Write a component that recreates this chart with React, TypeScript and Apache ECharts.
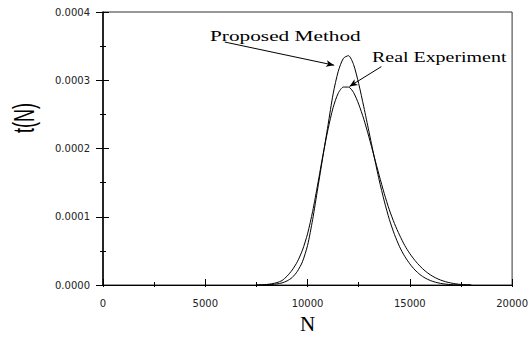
import React, { useEffect, useRef } from "react";
import * as echarts from "echarts";

// Sample positions N shared by both curves
const N_VALUES = [
  7500, 7750, 8000, 8250, 8500, 8750, 9000, 9250, 9500, 9750, 10000, 10250,
  10500, 10750, 11000, 11250, 11500, 11750, 12000, 12250, 12500, 12750, 13000,
  13250, 13500, 13750, 14000, 14250, 14500, 14750, 15000, 15250, 15500, 15750,
  16000, 16250, 16500, 16750, 17000, 17250, 17500, 17750, 18000,
];

// t(N) from the proposed method
const PROPOSED_T = [
  0, 0, 0.0000003, 0.0000008, 0.0000016, 0.000003, 0.000006, 0.000011,
  0.00002, 0.000034, 0.000058, 0.000096, 0.000142, 0.000188, 0.000234,
  0.00028, 0.000313, 0.000332, 0.000336, 0.000323, 0.000295, 0.000261,
  0.000225, 0.000189, 0.000154, 0.000123, 0.000096, 0.000074, 0.000056,
  0.000042, 0.000031, 0.000022, 0.0000152, 0.0000102, 0.0000066, 0.0000041,
  0.0000024, 0.0000013, 0.0000006, 0.0000002, 0, 0, 0,
];

// t(N) measured in the real experiment
const REAL_T = [
  0.0000001, 0.0000003, 0.0000008, 0.0000018, 0.0000035, 0.0000065, 0.000013,
  0.000022, 0.000034, 0.000051, 0.000075, 0.000108, 0.000148, 0.00019,
  0.000228, 0.00026, 0.000281, 0.00029, 0.00029, 0.000282, 0.000265,
  0.000243, 0.000217, 0.000189, 0.000161, 0.000134, 0.00011, 0.00009,
  0.000073, 0.000058, 0.000046, 0.000036, 0.0000275, 0.0000205, 0.000015,
  0.0000106, 0.0000073, 0.0000048, 0.000003, 0.0000017, 0.0000008, 0.0000003, 0,
];

const Y_TICK_LABELS = ["0.0000", "0.0001", "0.0002", "0.0003", "0.0004"];
const X_TICK_LABELS = ["0", "5000", "10000", "15000", "20000"];

// Arrow start/end points (data coordinates) for the two callouts
const PROPOSED_ARROW = [
  [5950, 0.000356],
  [11300, 0.000322],
];
const REAL_ARROW = [
  [13610, 0.00032],
  [12050, 0.000291],
];

const toPairs = (ys: number[]) => N_VALUES.map((n, i) => [n, ys[i]]);

const arrowMark = (pts: number[][]) => ({
  silent: true,
  symbol: ["none", "arrow"],
  symbolSize: [5, 8],
  lineStyle: { color: "#000", width: 1, type: "solid" },
  label: { show: false },
  emphasis: { disabled: true },
  data: [[{ coord: pts[0] }, { coord: pts[1] }]],
});

const textStyle = (text: string, font: string, align: string) => ({
  text,
  font,
  fill: "#000",
  align,
  verticalAlign: "middle",
  textAlign: align,
  textVerticalAlign: "middle",
});

export default function App() {
  const ref = useRef<HTMLDivElement>(null);

  useEffect(() => {
    document.body.style.margin = "0";
    if (!ref.current) return;
    const chart = echarts.init(ref.current, null, { renderer: "svg" });

    const labelFont = {
      fontFamily: "DejaVu Sans",
      fontSize: 10,
      color: "#222",
    };

    chart.setOption({
      animation: false,
      backgroundColor: "#fff",
      grid: {
        left: 103,
        right: 18,
        top: 12,
        bottom: 50,
        show: true,
        borderColor: "#333",
        borderWidth: 1,
      },
      xAxis: [
        {
          type: "value",
          min: 0,
          max: 20000,
          interval: 5000,
          axisLine: { show: true, onZero: false, lineStyle: { color: "#000", width: 1 } },
          axisTick: { show: true, inside: true, length: 6, lineStyle: { color: "#000" } },
          minorTick: { show: true, splitNumber: 2, length: 3, lineStyle: { color: "#000" } },
          splitLine: { show: false },
          axisLabel: {
            ...labelFont,
            margin: 13,
            formatter: (_v: number, i: number) => X_TICK_LABELS[i] ?? "",
          },
          name: "N",
          nameLocation: "middle",
          nameGap: 28,
          nameTextStyle: { fontFamily: "Liberation Serif", fontSize: 21, color: "#000" },
        },
        {
          type: "value",
          min: 0,
          max: 20000,
          interval: 5000,
          position: "bottom",
          axisLine: { show: false, onZero: false },
          axisTick: { show: true, inside: false, length: 2, lineStyle: { color: "#000" } },
          minorTick: { show: true, splitNumber: 2, length: 2, lineStyle: { color: "#000" } },
          splitLine: { show: false },
          axisLabel: { show: false },
        },
      ],
      yAxis: [
        {
          type: "value",
          min: 0,
          max: 0.0004,
          interval: 0.0001,
          position: "left",
          axisLine: { show: true, onZero: false, lineStyle: { color: "#000", width: 1.5 } },
          axisTick: { show: true, inside: false, length: 7, lineStyle: { color: "#000" } },
          minorTick: { show: true, splitNumber: 2, length: 3, lineStyle: { color: "#000" } },
          splitLine: { show: false },
          axisLabel: {
            ...labelFont,
            margin: 13,
            formatter: (_v: number, i: number) => Y_TICK_LABELS[i] ?? "",
          },
        },
        {
          type: "value",
          min: 0,
          max: 0.0004,
          interval: 0.0001,
          position: "left",
          axisLine: { show: false, onZero: false },
          axisTick: { show: true, inside: true, length: 6, lineStyle: { color: "#000" } },
          minorTick: { show: true, splitNumber: 2, length: 3, lineStyle: { color: "#000" } },
          splitLine: { show: false },
          axisLabel: { show: false },
        },
      ],
      series: [
        {
          type: "line",
          name: "Proposed Method",
          data: toPairs(PROPOSED_T),
          symbol: "none",
          smooth: 0.25,
          lineStyle: { color: "#000", width: 1 },
          markLine: arrowMark(PROPOSED_ARROW),
        },
        {
          type: "line",
          name: "Real Experiment",
          data: toPairs(REAL_T),
          symbol: "none",
          smooth: 0.25,
          lineStyle: { color: "#000", width: 1 },
          markLine: arrowMark(REAL_ARROW),
        },
      ],
      graphic: [
        {
          type: "text",
          x: 210,
          y: 36,
          scaleX: 1.42,
          style: textStyle("Proposed Method", "15px 'Liberation Serif'", "left"),
        },
        {
          type: "text",
          x: 372,
          y: 57,
          scaleX: 1.33,
          style: textStyle("Real Experiment", "15px 'Liberation Serif'", "left"),
        },
        {
          type: "text",
          x: 24,
          y: 118,
          rotation: Math.PI / 2,
          scaleX: 1,
          scaleY: 1.6,
          style: textStyle("t(N)", "18px 'Liberation Sans'", "center"),
        },
      ],
    });

    return () => chart.dispose();
  }, []);

  return <div ref={ref} style={{ width: 531, height: 339 }} />;
}
